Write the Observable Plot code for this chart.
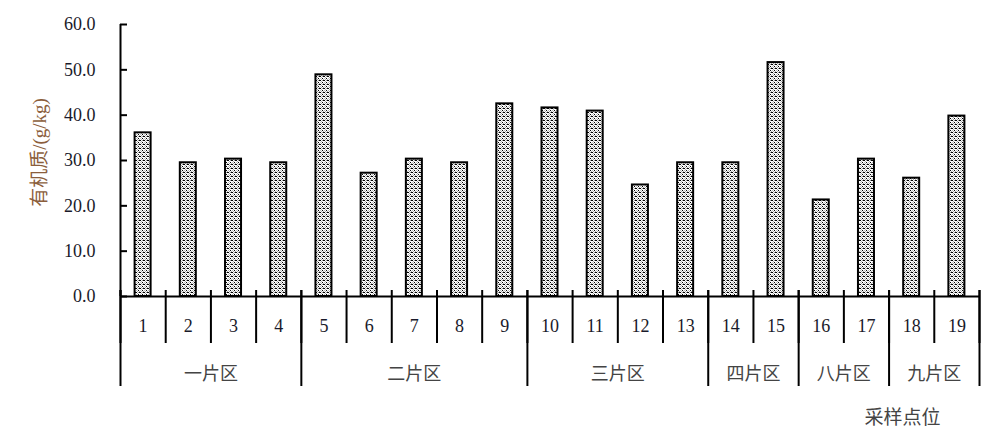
<!DOCTYPE html>
<html>
<head>
<meta charset="utf-8">
<script src="https://cdn.jsdelivr.net/npm/d3@7"></script>
<script src="https://cdn.jsdelivr.net/npm/@observablehq/plot@0.6"></script>
<style>
  html, body { margin: 0; padding: 0; background: #fff; }
</style>
</head>
<body>
<div id="chart"></div>
<script>
// ---- data ----
const samples = ["1","2","3","4","5","6","7","8","9","10","11","12","13","14","15","16","17","18","19"];
const values = [36.1, 29.5, 30.3, 29.5, 48.9, 27.2, 30.3, 29.5, 42.5, 41.6, 40.9, 24.6, 29.5, 29.5, 51.6, 21.3, 30.3, 26.1, 39.8];
const groups = ["一片区", "二片区", "三片区", "四片区", "八片区", "九片区"];
const groupSizes = [4, 5, 4, 2, 2, 2];
const yTicks = [0, 10, 20, 30, 40, 50, 60];
const yLabel = "有机质/(g/kg)";
const xTitle = "采样点位";

// ---- derived tables ----
const bars = samples.map((s, i) => ({sample: s, i, value: values[i]}));
let acc = 0;
const groupTable = groups.map((g, k) => {
  const start = acc; acc += groupSizes[k];
  return {group: g, start, end: acc};
});
const allBounds = d3.range(0, samples.length + 1);
const groupBounds = [0, ...groupTable.map(d => d.end)];

const serif = "'Liberation Serif', 'Noto Sans CJK SC', serif";
const cjk = "'Noto Sans CJK SC', 'Liberation Serif', sans-serif";

const plot = Plot.plot({
  width: 998,
  height: 437,
  marginLeft: 120,
  marginRight: 19,
  marginTop: 24,
  marginBottom: 141,
  style: {fontFamily: serif, fontSize: "18px", color: "#111", background: "#fff", overflow: "visible"},
  x: {domain: [0, samples.length], axis: null},
  y: {domain: [0, 60], axis: null},
  marks: [
    // bars
    Plot.rectY(bars, {
      x1: d => d.i, x2: d => d.i + 1, y1: 0, y2: "value",
      insetLeft: 14.6, insetRight: 14.6,
      fill: "url(#dots)", stroke: "#000", strokeWidth: 2
    }),
    // y axis labels
    Plot.axisY(yTicks, {
      tickSize: 0, tickPadding: 25, tickFormat: d => d.toFixed(1),
      fontSize: 18, fontFamily: serif, fill: "#1a1a2a", label: null
    }),
    // inward y tick marks
    Plot.ruleY(yTicks, {y: d => d, insetRight: 852, stroke: "#000", strokeWidth: 2}),
    // y axis line
    Plot.ruleX([0], {stroke: "#000", strokeWidth: 2}),
    // x axis line
    Plot.ruleY([0], {stroke: "#000", strokeWidth: 2}),
    // sample separators
    Plot.ruleX(allBounds, {x: d => d, insetTop: 266, insetBottom: -47, stroke: "#000", strokeWidth: 2}),
    // group separators
    Plot.ruleX(groupBounds, {x: d => d, insetTop: 266, insetBottom: -90, stroke: "#000", strokeWidth: 2}),
    // sample numbers
    Plot.text(bars, {x: d => d.i + 0.5, text: "sample", frameAnchor: "bottom", dy: 35,
      fontSize: 18, fontFamily: serif, fill: "#1a1a2a"}),
    // group labels
    Plot.text(groupTable, {x: d => (d.start + d.end) / 2, text: "group", frameAnchor: "bottom", dy: 83,
      fontSize: 18, fontFamily: cjk, fill: "#444"}),
    // x title
    Plot.text([xTitle], {text: d => d, frameAnchor: "bottom-right", textAnchor: "middle", dx: -77, dy: 127,
      fontSize: 19, fontFamily: cjk, fill: "#444"}),
    // y title
    Plot.text([yLabel], {text: d => d, frameAnchor: "left", textAnchor: "middle", rotate: -90, dx: -81, dy: -8,
      fontSize: "19px", fontFamily: serif, fill: "#8b5e3c"})
  ]
});

// stipple pattern for bars
const ns = "http://www.w3.org/2000/svg";
const defs = document.createElementNS(ns, "defs");
const pat = document.createElementNS(ns, "pattern");
pat.setAttribute("id", "dots");
pat.setAttribute("width", "4");
pat.setAttribute("height", "4");
pat.setAttribute("patternUnits", "userSpaceOnUse");
const px = (x, y, c) => {
  const r = document.createElementNS(ns, "rect");
  r.setAttribute("x", x); r.setAttribute("y", y);
  r.setAttribute("width", 1); r.setAttribute("height", 1);
  r.setAttribute("fill", c);
  pat.appendChild(r);
};
const bg = document.createElementNS(ns, "rect");
bg.setAttribute("width", 4); bg.setAttribute("height", 4); bg.setAttribute("fill", "#ffffff");
pat.appendChild(bg);
px(0, 0, "#000"); px(2, 2, "#000"); px(3, 0, "#000");
px(1, 1, "#b0b0b0"); px(3, 3, "#b0b0b0"); px(2, 0, "#a0a0a0"); px(0, 2, "#c0c0c0"); px(1, 3, "#a8a8a8");
defs.appendChild(pat);
plot.insertBefore(defs, plot.firstChild);

document.getElementById("chart").appendChild(plot);
</script>
</body>
</html>
